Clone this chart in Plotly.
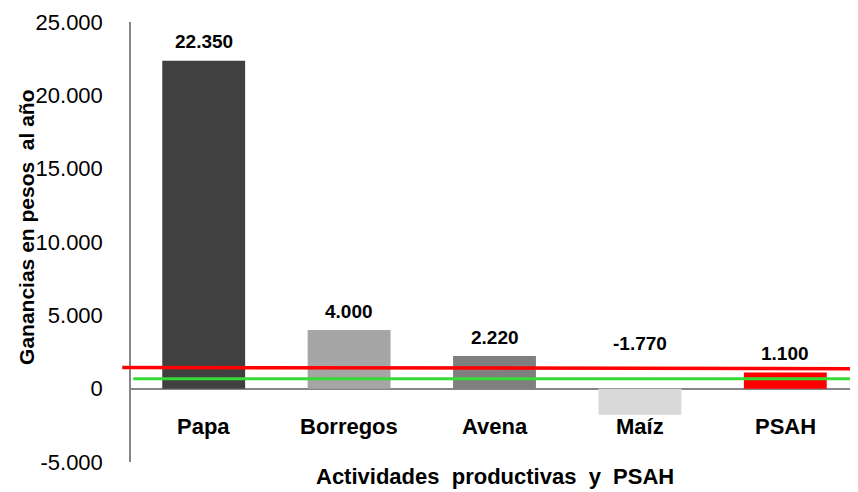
"""Ganancias por actividad productiva y PSAH."""

import plotly.graph_objects as go

categories = ['Papa', 'Borregos', 'Avena', 'Maíz', 'PSAH']
ganancias = [22350, 4000, 2220, -1770, 1100]
bar_colors = ['#404040', '#a5a5a5', '#7f7f7f', '#d9d9d9', '#ff0000']

y_ticks = [-5000, 0, 5000, 10000, 15000, 20000, 25000]

# reference lines (pesos al año)
red_line = [1450, 1360]
green_line = [680, 680]


def fmt(v):
    s = f"{abs(v):,}".replace(',', '.')
    return ('-' if v < 0 else '') + s


FONT = 'Liberation Sans, Arial, sans-serif'

fig = go.Figure(go.Bar(
    x=categories,
    y=ganancias,
    marker=dict(color=bar_colors, line=dict(width=0)),
    hoverinfo='skip',
))

# data labels
for cat, v in zip(categories, ganancias):
    fig.add_annotation(
        x=cat, y=abs(v), xref='x', yref='y',
        text=f"<b>{fmt(v)}</b>", showarrow=False,
        yanchor='middle', yshift=19,
        font=dict(family=FONT, size=19, color='black'),
    )

# category labels next to the zero line
for cat in categories:
    fig.add_annotation(
        x=cat, y=0, xref='x', yref='y',
        text=f"<b>{cat}</b>", showarrow=False,
        yanchor='middle', yshift=-38,
        font=dict(family=FONT, size=22, color='black'),
    )

fig.add_shape(type='line', xref='paper', yref='y',
              x0=-0.012, x1=1.0, y0=red_line[0], y1=red_line[1],
              line=dict(color='#ff0000', width=3.5))
fig.add_shape(type='line', xref='paper', yref='y',
              x0=0.003, x1=0.995, y0=green_line[0], y1=green_line[1],
              line=dict(color='#33dd33', width=3))

fig.add_annotation(
    x=0.5, y=0, xref='paper', yref='paper',
    text='<b>Actividades  productivas  y  PSAH</b>', showarrow=False,
    yanchor='middle', yshift=-14,
    font=dict(family=FONT, size=22, color='black'),
)
fig.add_annotation(
    x=0, y=0.532, xref='paper', yref='paper',
    text='<b>Ganancias en pesos  al año</b>', showarrow=False,
    textangle=-90, xanchor='center', xshift=-104,
    font=dict(family=FONT, size=21, color='black'),
)

# page body adds an 8px margin, so the figure is sized 8px smaller
fig.update_layout(
    width=850, height=484,
    margin=dict(l=123, r=0, t=14, b=30),
    plot_bgcolor='white', paper_bgcolor='white',
    bargap=0.43,
    showlegend=False,
    font=dict(family=FONT, color='black'),
)
fig.update_xaxes(
    showticklabels=False, showline=False, showgrid=False, ticks='',
)
fig.update_yaxes(
    range=[-5000, 25000],
    tickvals=y_ticks,
    ticktext=[fmt(v) for v in y_ticks],
    tickfont=dict(family=FONT, size=22, color='black'),
    showgrid=False, automargin=False,
    showline=True, linecolor='#868686', linewidth=1.5,
    zeroline=True, zerolinecolor='#868686', zerolinewidth=1.5,
    ticks='outside', ticklen=0, ticklabelstandoff=22,
)

fig.write_html("out.html")
